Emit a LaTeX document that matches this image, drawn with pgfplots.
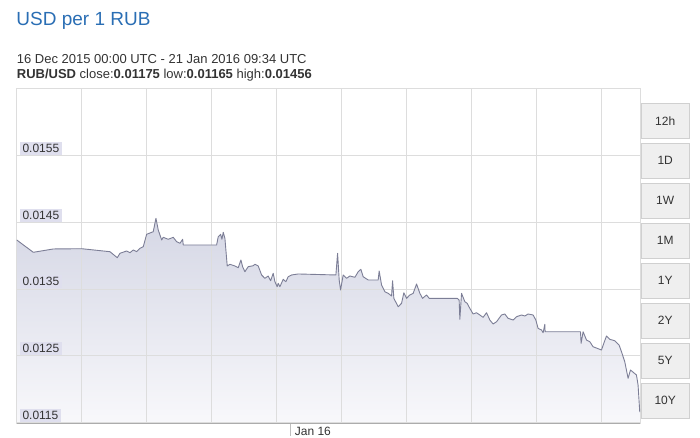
\documentclass[border=0pt]{standalone}
\usepackage{pgfplots}
\pgfplotsset{compat=1.18}
\usepackage{pgfplotstable}
\usepackage{fontspec}
\setmainfont{Liberation Sans}
\definecolor{titleblue}{HTML}{2A6EB4}
\definecolor{txt}{HTML}{333333}
\definecolor{gridc}{HTML}{DDDDDD}
\definecolor{labbg}{HTML}{DFDFEE}
\definecolor{linec}{HTML}{7C7E96}
\definecolor{filltop}{HTML}{D5D7E5}
\definecolor{fillbot}{HTML}{F8F8FB}
\definecolor{btnfill}{HTML}{EFEFEF}
\definecolor{btnborder}{HTML}{D0D0D0}

\pgfplotstableread{
t v
0 0.014235
0.969 0.01405
2.137 0.01410
3.795 0.014104
5.447 0.014059
5.873 0.013969
6.030 0.014035
6.421 0.01407
6.614 0.014044
6.807 0.014085
7.005 0.014059
7.198 0.01411
7.391 0.014134
7.589 0.01432
7.974 0.014359
8.132 0.01456
8.266 0.014385
8.465 0.014235
8.558 0.014275
8.850 0.014245
9.142 0.014275
9.340 0.014209
9.533 0.014185
9.691 0.014245
9.726 0.01416
11.675 0.01416
11.769 0.014284
11.909 0.01432
11.985 0.014245
12.061 0.01435
12.160 0.01426
12.294 0.013845
12.452 0.01387
12.744 0.013845
12.936 0.013819
13.094 0.013935
13.193 0.013834
13.327 0.013759
13.520 0.013834
13.812 0.013849
13.911 0.01387
14.104 0.013845
14.302 0.01371
14.495 0.01366
14.688 0.013695
14.828 0.013624
14.980 0.013735
15.079 0.013609
15.213 0.013534
15.271 0.013585
15.371 0.013534
15.563 0.013645
15.721 0.013609
15.855 0.013684
16.054 0.01371
16.439 0.013725
18.640 0.01371
18.739 0.014035
18.833 0.013635
18.914 0.013485
19.066 0.01371
19.264 0.01366
19.457 0.013695
19.749 0.013675
19.942 0.013759
20.099 0.013795
20.234 0.013684
20.526 0.013635
21.109 0.013635
21.168 0.01377
21.308 0.01356
21.500 0.013459
21.693 0.013435
21.891 0.013395
21.950 0.013624
22.026 0.01336
22.277 0.013234
22.475 0.013285
22.609 0.013444
22.767 0.01336
22.960 0.01341
23.153 0.013435
23.351 0.013575
23.544 0.013435
23.701 0.01336
23.935 0.01341
24.087 0.01336
25.721 0.01336
25.838 0.013335
25.879 0.013045
25.978 0.013435
26.171 0.013309
26.305 0.013285
26.462 0.01321
26.655 0.013125
26.853 0.013144
27.046 0.01311
27.239 0.013075
27.437 0.013144
27.630 0.013035
27.823 0.012975
28.021 0.013009
28.313 0.01311
28.505 0.013125
28.698 0.01306
28.990 0.013035
29.189 0.013084
29.480 0.01311
29.673 0.013095
29.866 0.013125
30.158 0.01311
30.315 0.013035
30.449 0.01291
30.648 0.012885
30.741 0.012844
30.841 0.01297
30.858 0.012859
32.925 0.012859
32.960 0.012685
33.077 0.012859
33.275 0.012735
33.468 0.012709
33.660 0.012634
34.151 0.012585
34.285 0.012685
34.442 0.012795
34.635 0.012745
34.927 0.012724
35.178 0.01266
35.318 0.012559
35.511 0.012409
35.704 0.01216
35.843 0.012285
36.036 0.012244
36.193 0.01221
36.287 0.01206
36.386 0.011655
}\ratetable

\begin{document}
\begin{tikzpicture}[x=1pt,y=1pt]
\path (0,0) rectangle (700,436);
% header texts
\node[anchor=base west, inner sep=0, text=titleblue, font=\fontsize{19}{22}\selectfont] at (16.2,410) {USD per 1 RUB};
\node[anchor=base west, inner sep=0, text=txt, font=\fontsize{13}{15}\selectfont] at (16.7,372.7) {16 Dec 2015 00:00 UTC - 21 Jan 2016 09:34 UTC};
\node[anchor=base west, inner sep=0, text=txt, font=\fontsize{13}{15}\selectfont] at (16.7,357.7) {\textbf{RUB/USD} close:\textbf{0.01175} low:\textbf{0.01165} high:\textbf{0.01456}};

\begin{axis}[
  set layers=standard,
  at={(16.7pt,12.3pt)}, anchor=south west,
  scale only axis, width=623.3pt, height=335.4pt,
  xmin=0, xmax=36.4, ymin=0.01148, ymax=0.016509,
  axis line style={draw=gridc, line width=0.8pt},
  tick pos=left,
  xtick={3.795,7.59,11.385,15.18,18.975,22.77,26.565,30.36,34.155},
  xticklabels={},
  xticklabel style={inner sep=0pt},
  scaled y ticks=false,
  ytick={0.0115,0.0125,0.0135,0.0145,0.0155},
  yticklabels={0.0115,0.0125,0.0135,0.0145,0.0155},
  major tick length=0pt,
  xmajorgrids, ymajorgrids,
  grid style={draw=gridc, line width=0.8pt},
  yticklabel style={anchor=south west, xshift=2.6pt, yshift=0.4pt, fill=labbg,
    inner xsep=3pt, inner ysep=2.3pt, text=txt, font=\fontsize{12}{14}\selectfont},
  extra x ticks={16}, extra x tick labels={},
  extra x tick style={grid=none, major tick length=12.2pt, tick align=outside,
    major tick style={draw=gray!50, line width=0.8pt}},
  clip=true,
]
\addplot[on layer=axis background, draw=none, top color=filltop, bottom color=fillbot] table[x=t,y=v] {\ratetable} \closedcycle;
\addplot[linec, line width=0.9pt, line join=round] table[x=t,y=v] {\ratetable};
\draw[gray!65, line width=0.9pt] (rel axis cs:0,0) -- (rel axis cs:1,0);
\coordinate (jan) at (axis cs:16,0.01148);
\end{axis}
\node[anchor=base west, inner sep=0pt, xshift=4pt, yshift=-11.4pt, text=txt, font=\fontsize{12}{14}\selectfont] at (jan) {Jan 16};

% range buttons
\foreach \lab [count=\i from 0] in {12h,1D,1W,1M,1Y,2Y,5Y,10Y}{
  \draw[fill=btnfill, draw=btnborder, line width=0.7pt] (641,332.7-40*\i) rectangle (689.3,297.7-40*\i);
  \node[text=txt, font=\fontsize{12}{14}\selectfont] at (665.2,315.2-40*\i) {\lab};
}
\end{tikzpicture}
\end{document}
